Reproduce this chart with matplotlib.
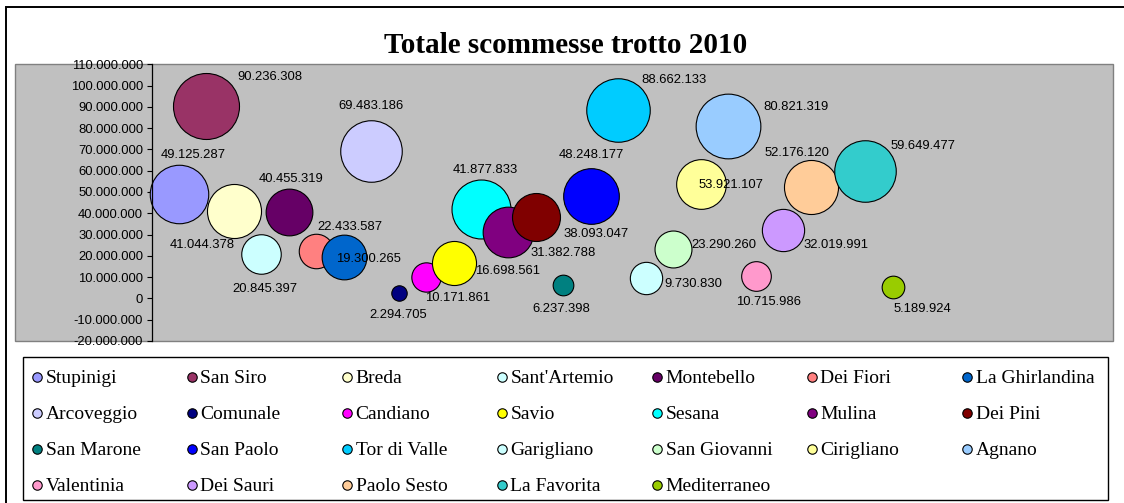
import numpy as np
import matplotlib
matplotlib.use("Agg")
import matplotlib.pyplot as plt
from matplotlib.patches import Rectangle
from matplotlib.ticker import FuncFormatter, MultipleLocator

# ---------------- data ----------------
titolo = "Totale scommesse trotto 2010"

ippodromi = ["Stupinigi", "San Siro", "Breda", "Sant'Artemio", "Montebello",
             "Dei Fiori", "La Ghirlandina", "Arcoveggio", "Comunale", "Candiano",
             "Savio", "Sesana", "Mulina", "Dei Pini", "San Marone", "San Paolo",
             "Tor di Valle", "Garigliano", "San Giovanni", "Cirigliano", "Agnano",
             "Valentinia", "Dei Sauri", "Paolo Sesto", "La Favorita", "Mediterraneo"]

posizione_x = [1, 2, 3, 4, 5, 6, 7, 8, 9, 10, 11, 12, 13, 14, 15, 16, 17, 18,
               19, 20, 21, 22, 23, 24, 26, 27]

scommesse = [49125287, 90236308, 41044378, 20845397, 40455319, 22433587,
             19300265, 69483186, 2294705, 10171861, 16698561, 41877833,
             31382788, 38093047, 6237398, 48248177, 88662133, 9730830,
             23290260, 53921107, 80821319, 10715986, 32019991, 52176120,
             59649477, 5189924]

# third (bubble size) variable
dimensione = [354, 449, 303, 164, 228, 126, 209, 391, 27, 92, 203, 360, 267,
              240, 47, 321, 416, 111, 144, 257, 432, 94, 187, 303, 391, 56]

colori = ["#9999FF", "#993366", "#FFFFCC", "#CCFFFF", "#660066", "#FF8080",
          "#0066CC", "#CCCCFF", "#000080", "#FF00FF", "#FFFF00", "#00FFFF",
          "#800080", "#800000", "#008080", "#0000FF", "#00CCFF", "#CCFFFF",
          "#CCFFCC", "#FFFF99", "#99CCFF", "#FF99CC", "#CC99FF", "#FFCC99",
          "#33CCCC", "#99CC00"]

y_min, y_max, y_step = -20000000, 110000000, 10000000

# ---------------- layout (pixels) ----------------
# label offsets from bubble centre, in pixels (dx right, dy up)
label_offsets = [(14, 41), (64, 31), (-32, -32), (4, -33), (2, 35), (34, 25),
                 (25, 0), (0, 46), (0, -20), (31, -20), (54, -6), (4, 41),
                 (55, -20), (60, -15), (-2, -22), (0, 42), (56, 31), (48, -5),
                 (51, 5), (30, 0), (68, 21), (13, -25), (53, -13), (-14, 36),
                 (58, 27), (29, -20)]

W, H = 1124, 503
DPI = 100
fig = plt.figure(figsize=(W / DPI, H / DPI), dpi=DPI)
fig.patch.set_facecolor("white")


def fx(px):
    return px / W


def fy(py):
    return 1 - py / H


AX_L, AX_R, AX_T, AX_B = 151.5, 1112.6, 64.3, 340.9
GRAY_L = 15

# outer chart border (left/top visible)
fig.patches.append(Rectangle((fx(6.5), -0.2), 1.5, fy(7.3) + 0.2,
                             transform=fig.transFigure, fill=False,
                             ec="black", lw=1.4, zorder=-2))
# plot area background (extends under tick labels like Excel)
fig.patches.append(Rectangle((fx(GRAY_L), fy(AX_B)), (AX_R - GRAY_L) / W,
                             (AX_B - AX_T) / H, transform=fig.transFigure,
                             fc="#C0C0C0", ec="#808080", lw=1.0, zorder=-1))

ax = fig.add_axes([fx(AX_L), fy(AX_B), (AX_R - AX_L) / W, (AX_B - AX_T) / H])
ax.set_facecolor("none")
ax.set_xlim(0, 35)
ax.set_ylim(y_min, y_max)

FONT_NUM = "Liberation Sans"
FS_NUM = 9.4

max_d = 67.0
for i, name in enumerate(ippodromi):
    d_px = max_d * np.sqrt(dimensione[i] / max(dimensione))
    s = ((d_px - 1.0) * 72.0 / DPI) ** 2
    ax.scatter([posizione_x[i]], [scommesse[i]], s=s, c=colori[i],
               edgecolors="black", linewidths=0.8, zorder=2 + i,
               clip_on=False, label=name)


def fmt_it(v):
    return f"{int(round(v)):,}".replace(",", ".")


for i in range(len(ippodromi)):
    dx, dy = label_offsets[i]
    ax.annotate(fmt_it(scommesse[i]), (posizione_x[i], scommesse[i]),
                xytext=(dx, dy - 4.7), textcoords="offset pixels",
                ha="center", va="baseline", fontsize=FS_NUM,
                family=FONT_NUM, color="black", zorder=100)

ax.yaxis.set_major_locator(MultipleLocator(y_step))
ax.yaxis.set_major_formatter(FuncFormatter(lambda v, p: fmt_it(v)))
ax.tick_params(axis="y", direction="out", length=3.6, width=0.8, pad=2.5,
               labelsize=FS_NUM, colors="black")
for lab in ax.get_yticklabels():
    lab.set_family(FONT_NUM)
ax.set_xticks([])
for side in ["top", "right", "bottom"]:
    ax.spines[side].set_visible(False)
ax.spines["left"].set_color("black")
ax.spines["left"].set_linewidth(0.9)

# title
fig.text(fx(566), fy(53.3), titolo, ha="center", va="baseline", fontsize=21,
         fontweight="bold", family="Liberation Serif", color="black")

# legend (Excel-style, 7 equal columns)
lg = fig.add_axes([0, 0, 1, 1])
lg.set_xlim(0, W)
lg.set_ylim(H, 0)
lg.axis("off")
lg.set_facecolor("none")
lg.add_patch(Rectangle((22.7, 357), 1108 - 22.7, 143, fill=False,
                       ec="black", lw=1.0))
col0, col_step = 37, 155
row0, row_step = 377, 36
for i, name in enumerate(ippodromi):
    r, c = divmod(i, 7)
    mx = col0 + c * col_step
    my = row0 + r * row_step
    lg.plot([mx], [my], marker="o", markersize=6.8, mfc=colori[i],
            mec="black", mew=0.8, ls="none")
    lg.text(mx + 8.5, my + 6, name, ha="left", va="baseline", fontsize=14,
            family="Liberation Serif", color="black")

fig.savefig("out.png", dpi=DPI)
